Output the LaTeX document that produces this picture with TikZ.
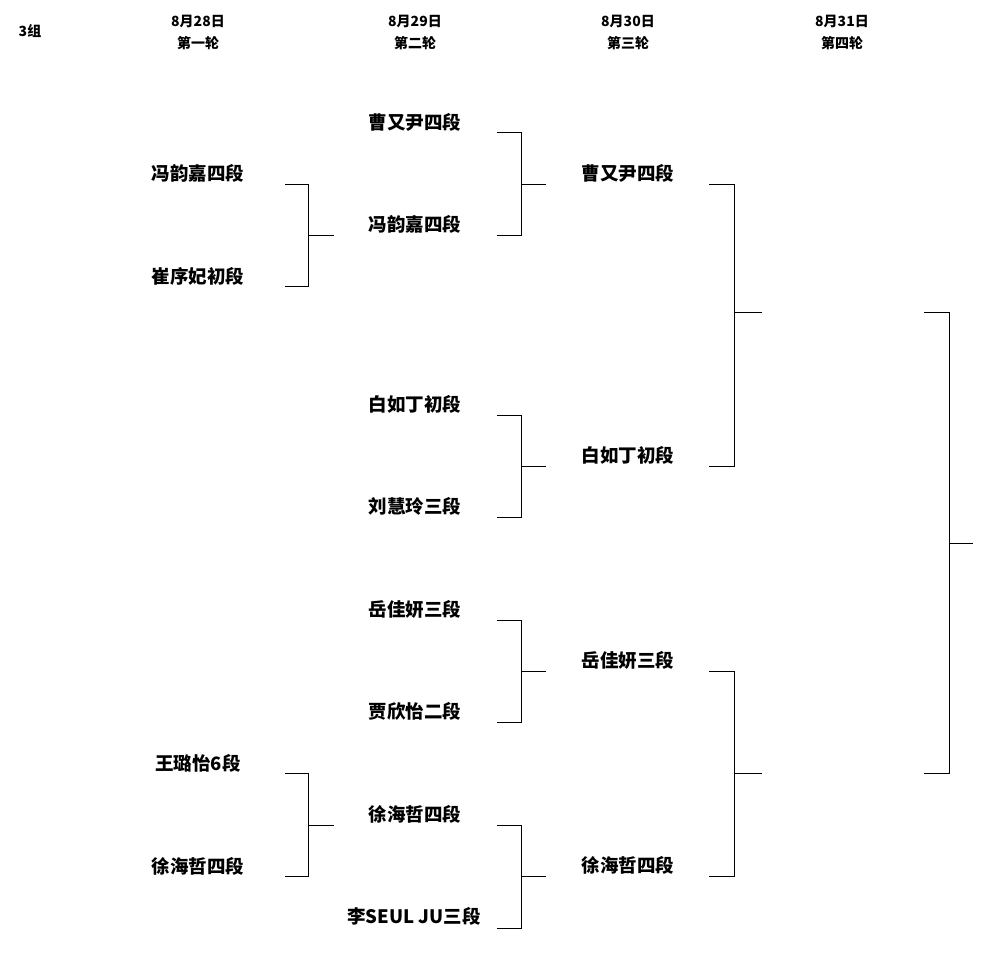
\documentclass[tikz,border=0pt]{standalone}
\usepackage{fontspec}
\setmainfont{Liberation Serif}
\newfontfamily\cjk{Noto Sans CJK SC}
\begin{document}
\begin{tikzpicture}[x=1pt,y=-1pt,
  nm/.style={font=\cjk\bfseries\fontsize{18.5}{20}\selectfont,anchor=center,inner sep=0},
  hd/.style={font=\cjk\bfseries\fontsize{14}{22}\selectfont,align=center,anchor=center,inner sep=0},
  br/.style={line width=1pt}]
\useasboundingbox (0,0) rectangle (1001,963);
\node[hd] (g) at (30,31) {3组};
\node[hd] (h1) at (198,32) {8月28日\\第一轮};
\node[hd] (h2) at (415,32) {8月29日\\第二轮};
\node[hd] (h3) at (628,32) {8月30日\\第三轮};
\node[hd] (h4) at (842,32) {8月31日\\第四轮};
% round 1
\node[nm] (a1) at (198,173) {冯韵嘉四段};
\node[nm] (a2) at (198,276) {崔序妃初段};
\node[nm] (a3) at (198,763) {王璐怡6段};
\node[nm] (a4) at (198,866) {徐海哲四段};
% round 2
\node[nm] (b1) at (415,122) {曹又尹四段};
\node[nm] (b2) at (415,224) {冯韵嘉四段};
\node[nm] (b3) at (415,404) {白如丁初段};
\node[nm] (b4) at (415,506) {刘慧玲三段};
\node[nm] (b5) at (415,609) {岳佳妍三段};
\node[nm] (b6) at (415,711) {贾欣怡二段};
\node[nm] (b7) at (415,814) {徐海哲四段};
\node[nm] (b8) at (414,916) {李SEUL JU三段};
% round 3
\node[nm] (c1) at (628,173) {曹又尹四段};
\node[nm] (c2) at (628,455) {白如丁初段};
\node[nm] (c3) at (628,660) {岳佳妍三段};
\node[nm] (c4) at (628,865) {徐海哲四段};
% brackets
\foreach \xa/\xb/\xc/\ya/\yb/\ym in {285/308/334/184/286/235, 285/308/334/773/876/825,
  497/521/546/133/235/184, 497/521/546/415/517/466, 497/521/546/620/722/671, 497/521/546/825/928/876,
  709/734/762/184/466/312, 709/734/762/671/876/773, 924/949/973/312/773/543}{
  \draw[br] (\xa,\ya) -- (\xb,\ya) -- (\xb,\yb) -- (\xa,\yb);
  \draw[br] (\xb,\ym) -- (\xc,\ym);
}
\end{tikzpicture}
\end{document}
